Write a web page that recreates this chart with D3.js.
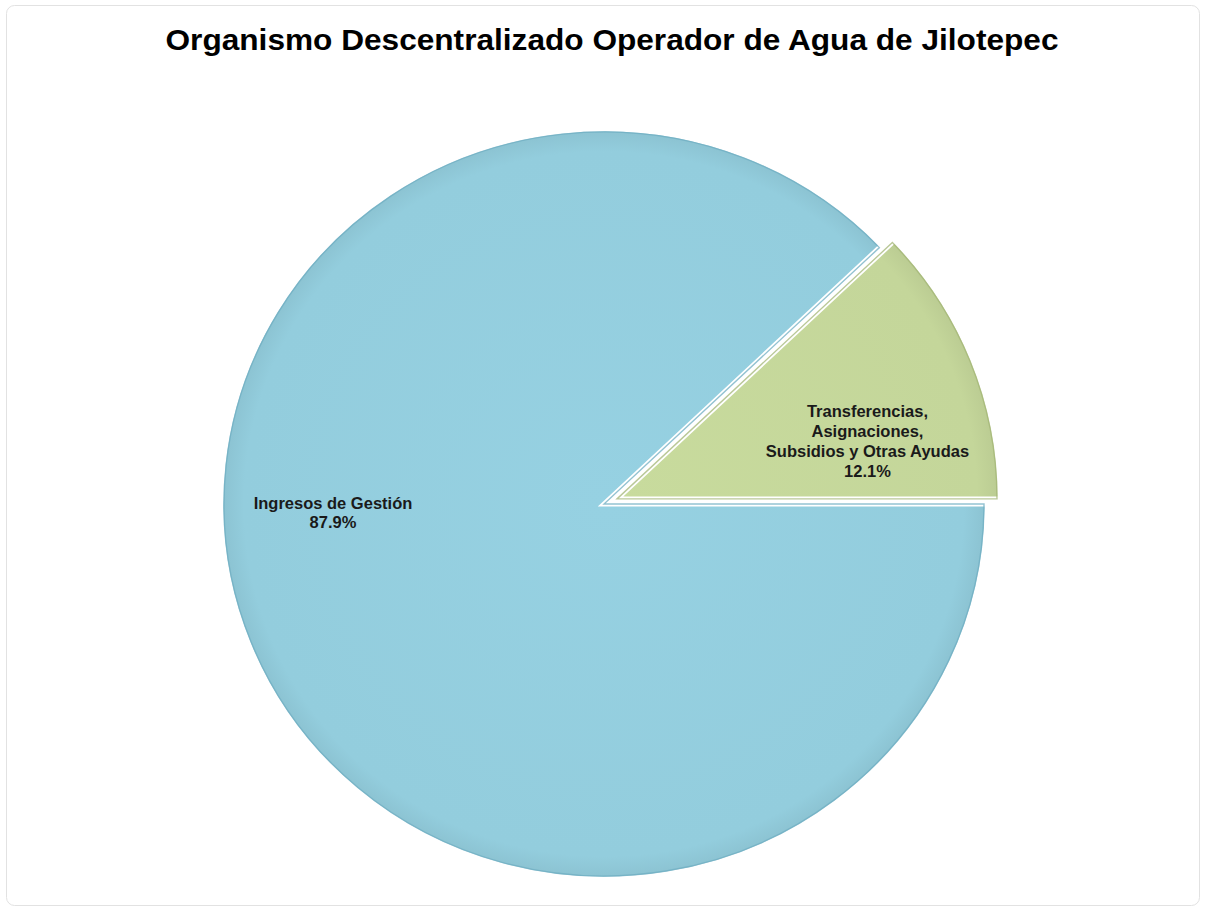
<!DOCTYPE html>
<html>
<head>
<meta charset="utf-8">
<script src="https://cdn.jsdelivr.net/npm/d3@7"></script>
<style>
  html, body { margin: 0; padding: 0; background: #ffffff; }
  svg { display: block; }
</style>
</head>
<body>
<svg id="chart" width="1206" height="911"></svg>
<script>
// ---- data ----
const categories = ["Ingresos de Gestión", "Transferencias, Asignaciones, Subsidios y Otras Ayudas"];
const values = [87.9, 12.1];
const labelLines = [
  ["Ingresos de Gestión", "87.9%"],
  ["Transferencias,", "Asignaciones,", "Subsidios y Otras Ayudas", "12.1%"]
];
const title = "Organismo Descentralizado Operador de Agua de Jilotepec";

// ---- style / layout ----
const fills = ["#93CDDD", "#C4D69A"];
const edges = ["#6FAEC1", "#A3B676"];
const explode = [0, 14];
const labelPolar = [[-91.8, 0.708], [76.7, 0.672]]; // [angle deg (d3 convention), radius fraction]

const svg = d3.select("#chart");
const W = 1206, H = 911;

// frame
svg.append("rect").attr("x", 6.5).attr("y", 5.5).attr("width", 1193).attr("height", 900)
  .attr("rx", 8).attr("fill", "#ffffff").attr("stroke", "#e2e2e2").attr("stroke-width", 1);

// title
svg.append("text")
  .attr("x", W / 2 + 9).attr("y", 50)
  .attr("text-anchor", "middle")
  .attr("font-family", "Liberation Sans, Arial, sans-serif")
  .attr("font-weight", "bold").attr("font-size", 30)
  .attr("textLength", 893).attr("lengthAdjust", "spacingAndGlyphs")
  .attr("fill", "#000").text(title);

const cx = 604, cy = 504, R = 383, sy = 375 / 383;

const pie = d3.pie().sort(null).value(d => d)
  .startAngle(Math.PI / 2).endAngle(Math.PI / 2 + 2 * Math.PI);
const arcs = pie(values);
const arc = d3.arc().innerRadius(0).outerRadius(R);
const arcInner = d3.arc().innerRadius(0).outerRadius(R - 3);

const defs = svg.append("defs");
fills.forEach((c, i) => {
  const g = defs.append("radialGradient").attr("id", "grad" + i)
    .attr("gradientUnits", "userSpaceOnUse").attr("cx", 0).attr("cy", 0).attr("r", R);
  g.append("stop").attr("offset", "0%").attr("stop-color", d3.color(c).brighter(0.06));
  g.append("stop").attr("offset", "94%").attr("stop-color", c);
  g.append("stop").attr("offset", "100%").attr("stop-color", d3.color(c).darker(0.15));
});

const root = svg.append("g").attr("transform", `translate(${cx},${cy}) scale(1,${sy})`);

const slices = root.selectAll("g.slice").data(arcs).enter().append("g")
  .attr("class", "slice")
  .attr("transform", (d, i) => {
    const a = (d.startAngle + d.endAngle) / 2;
    return `translate(${Math.sin(a) * explode[i]},${-Math.cos(a) * explode[i]})`;
  });

slices.append("path").attr("d", arc)
  .attr("fill", (d, i) => `url(#grad${i})`)
  .attr("stroke", "#ffffff").attr("stroke-width", 5).attr("stroke-linejoin", "miter");
slices.append("path").attr("d", arcInner)
  .attr("fill", "none")
  .attr("stroke", (d, i) => edges[i]).attr("stroke-width", 1.4).attr("stroke-opacity", 0.75);

// labels
const lab = svg.append("g").attr("transform", `translate(${cx},${cy})`);
arcs.forEach((d, i) => {
  const a = (d.startAngle + d.endAngle) / 2;
  const ox = Math.sin(a) * explode[i], oy = -Math.cos(a) * explode[i] * sy;
  const ang = labelPolar[i][0] * Math.PI / 180;
  const rr = labelPolar[i][1] * R;
  const x = ox + Math.sin(ang) * rr;
  const y = oy - Math.cos(ang) * rr * sy;
  const lines = labelLines[i];
  const lh = 19.7;
  const t = lab.append("text")
    .attr("text-anchor", "middle")
    .attr("font-family", "Liberation Sans, Arial, sans-serif")
    .attr("font-weight", "bold").attr("font-size", 16.5)
    .attr("fill", "#1a1a1a");
  lines.forEach((ln, j) => {
    t.append("tspan").attr("x", x)
      .attr("y", y + (j - (lines.length - 1) / 2) * lh + 6)
      .text(ln);
  });
});
</script>
</body>
</html>
